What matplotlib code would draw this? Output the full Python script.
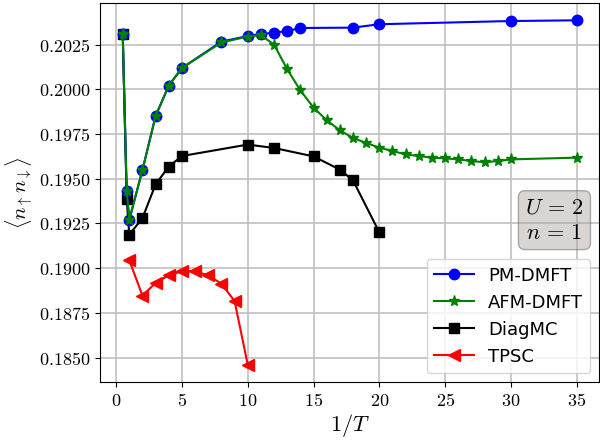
import numpy as np
import matplotlib
matplotlib.use("Agg")
import matplotlib.pyplot as plt
from matplotlib.ticker import FuncFormatter

plt.rcParams["mathtext.fontset"] = "cm"

pm_x = [0.5, 0.8, 1, 2, 3, 4, 5, 8, 10, 11, 12, 13, 14, 18, 20, 30, 35]
pm_y = [0.20312, 0.19433, 0.19271, 0.19549, 0.19851, 0.20021, 0.20119, 0.20267,
        0.20298, 0.20309, 0.20317, 0.20326, 0.20343, 0.20345, 0.20364, 0.20382, 0.20386]

afm_x = [0.5, 0.8, 1, 2, 3, 4, 5, 8, 10, 11, 12, 13, 14, 15, 16, 17, 18, 19, 20,
         21, 22, 23, 24, 25, 26, 27, 28, 29, 30, 35]
afm_y = [0.20312, 0.19433, 0.19271, 0.19549, 0.19851, 0.20021, 0.20119, 0.20262,
         0.20295, 0.20303, 0.20250, 0.20112, 0.19994, 0.19898, 0.19827, 0.19771,
         0.19728, 0.19700, 0.19674, 0.19655, 0.19636, 0.19627, 0.19618, 0.19614,
         0.19608, 0.19599, 0.19592, 0.19599, 0.19608, 0.19618]

dmc_x = [0.5, 0.8, 1, 2, 3, 4, 5, 10, 12, 15, 17, 18, 20]
dmc_y = [0.20312, 0.19389, 0.19187, 0.19280, 0.19469, 0.19568, 0.19627, 0.19691,
         0.19672, 0.19625, 0.19551, 0.19491, 0.19200]

tpsc_x = [1, 2, 3, 4, 5, 6, 7, 8, 9, 10]
tpsc_y = [0.19044, 0.18846, 0.18917, 0.18960, 0.18982, 0.18982, 0.18960, 0.18913,
          0.18816, 0.18460]

fig, ax = plt.subplots(figsize=(6, 4.41), dpi=100)
fig.subplots_adjust(left=0.1667, right=0.999, top=0.993, bottom=0.134)

ax.plot(pm_x, pm_y, "o-", color="blue", ms=7.5, lw=1.5, label="PM-DMFT", zorder=3)
ax.plot(afm_x, afm_y, "*-", color="green", ms=8, lw=1.5, label="AFM-DMFT", zorder=4)
ax.plot(dmc_x, dmc_y, "s-", color="black", ms=7, lw=1.5, label="DiagMC", zorder=2)
ax.plot(tpsc_x, tpsc_y, "<-", color="red", ms=8, lw=1.5, label="TPSC", zorder=5)

ax.set_yticks([0.1850, 0.1875, 0.1900, 0.1925, 0.1950, 0.1975, 0.2000, 0.2025])
ax.set_xticks([0, 5, 10, 15, 20, 25, 30, 35])
ax.yaxis.set_major_formatter(FuncFormatter(lambda v, p: r"$%.4f$" % v))
ax.xaxis.set_major_formatter(FuncFormatter(lambda v, p: r"$%d$" % v))
ax.tick_params(labelsize=13)
ax.grid(True, color="#c0c0c0", lw=1.2)

ax.set_xlabel(r"$1/T$", fontsize=16, labelpad=2)
ax.set_ylabel(r"$\langle n_\uparrow n_\downarrow \rangle$", fontsize=15, labelpad=2)

ax.text(0.91, 0.427, r"$U\,=\,2$" "\n" r"$n\,=\,1$", transform=ax.transAxes, fontsize=16,
        ha="center", va="center", linespacing=1.35,
        bbox=dict(boxstyle="round,pad=0.3", facecolor="#a9a39f", alpha=0.45,
                  edgecolor="#555555"))

ax.legend(loc="lower right", fontsize=13, handlelength=2.2)

fig.savefig("out.png", dpi=100)
